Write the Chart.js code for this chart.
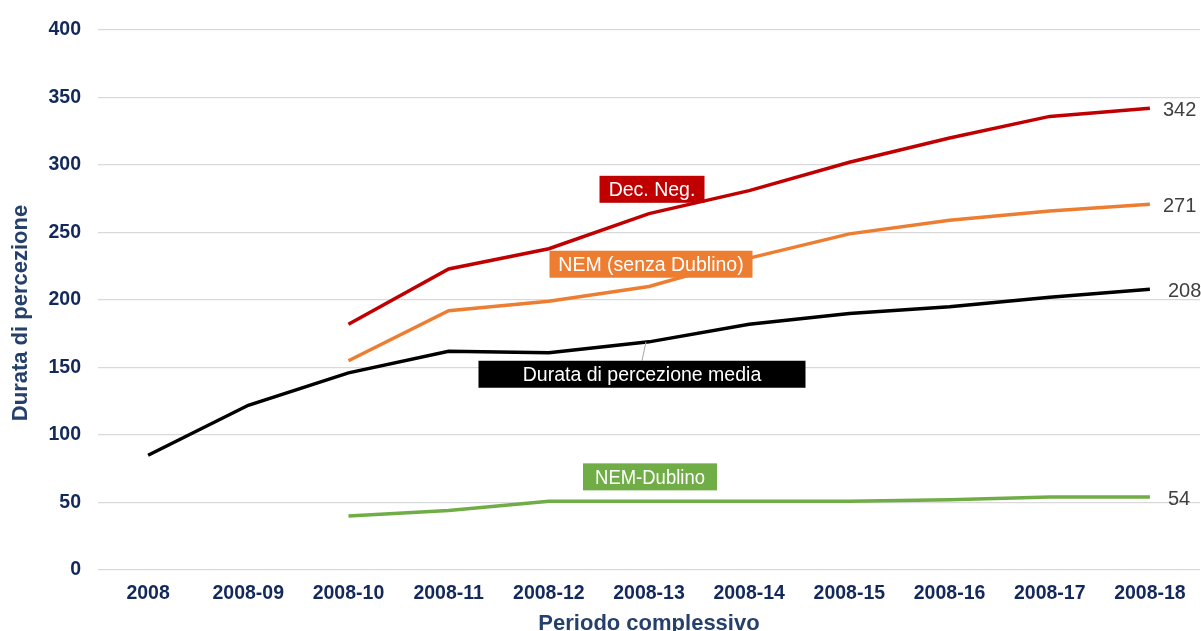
<!DOCTYPE html>
<html>
<head>
<meta charset="utf-8">
<script src="https://cdn.jsdelivr.net/npm/chart.js@4/dist/chart.umd.min.js"></script>
<style>
  html, body { margin: 0; padding: 0; background: #fff; }
  #wrap { width: 1201px; height: 631px; }
</style>
</head>
<body>
<div id="wrap"><canvas id="chart" width="1201" height="631"></canvas></div>
<script>
const periods = ['2008', '2008-09', '2008-10', '2008-11', '2008-12', '2008-13', '2008-14', '2008-15', '2008-16', '2008-17', '2008-18'];
const yTicks = [0, 50, 100, 150, 200, 250, 300, 350, 400];

const decNeg      = [null, null, 182, 223, 238, 264, 281, 302, 320, 336, 342];
const nemSenza    = [null, null, 155, 192, 199, 210, 231, 249, 259, 266, 271];
const durataMedia = [85, 122, 146, 162, 161, 169, 182, 190, 195, 202, 208];
const nemDublino  = [null, null, 40, 44, 51, 51, 51, 51, 52, 54, 54];

const navy = '#13295b';
const titleColor = '#26406c';
const font = '"Liberation Sans", Arial, sans-serif';

// name boxes: text, fill, centre x (category index), centre y (value)
const nameBoxes = [
  { text: 'Dec. Neg.', fill: '#c00000', x: 5.03, y: 282, w: 105 },
  { text: 'NEM (senza Dublino)', fill: '#ed7d31', x: 5.02, y: 226.5, w: 203 },
  { text: 'Durata di percezione media', fill: '#000000', x: 4.93, y: 145, w: 327, leader: { x: 4.97, y: 169 } },
  { text: 'NEM-Dublino', fill: '#70ad47', x: 5.01, y: 69, w: 134, narrow: true }
];

const labelPlugin = {
  id: 'labels',
  afterDatasetsDraw(chart) {
    const ctx = chart.ctx;
    const xs = chart.scales.x, ys = chart.scales.y;
    ctx.save();

    // y axis title (sits a bit below the plot's middle, as in the original)
    ctx.save();
    ctx.translate(21, (chart.chartArea.top + chart.chartArea.bottom) / 2 + 13);
    ctx.rotate(-Math.PI / 2);
    ctx.font = 'bold 22px ' + font;
    ctx.fillStyle = titleColor;
    ctx.textAlign = 'center';
    ctx.textBaseline = 'middle';
    ctx.fillText('Durata di percezione', 0, 0);
    ctx.restore();

    // end values
    ctx.font = '20px ' + font;
    ctx.fillStyle = '#404040';
    ctx.textAlign = 'left';
    ctx.textBaseline = 'middle';
    chart.data.datasets.forEach(ds => {
      const last = ds.data.length - 1;
      const v = ds.data[last];
      ctx.fillText(String(v), xs.getPixelForValue(last) + ds.endOffset, ys.getPixelForValue(v) + 2);
    });

    // name boxes
    nameBoxes.forEach(b => {
      const cx = xs.getPixelForValue(b.x);
      const cy = ys.getPixelForValue(b.y);
      const h = 27;
      if (b.leader) {
        ctx.strokeStyle = '#a6a6a6';
        ctx.lineWidth = 1;
        ctx.beginPath();
        ctx.moveTo(xs.getPixelForValue(b.leader.x), ys.getPixelForValue(b.leader.y));
        ctx.lineTo(cx, cy - h / 2);
        ctx.stroke();
      }
      ctx.fillStyle = b.fill;
      ctx.fillRect(cx - b.w / 2, cy - h / 2, b.w, h);
      ctx.fillStyle = '#ffffff';
      ctx.textAlign = 'center';
      if (b.narrow) {
        // condensed look
        ctx.save();
        ctx.translate(cx, cy + 1);
        ctx.scale(0.88, 1);
        ctx.font = '21px ' + font;
        ctx.fillText(b.text, 0, 0);
        ctx.restore();
      } else {
        ctx.font = '19.5px ' + font;
        ctx.fillText(b.text, cx, cy + 1);
      }
    });
    ctx.restore();
  }
};

function line(label, data, color, endOffset) {
  return {
    label,
    data,
    borderColor: color,
    backgroundColor: color,
    borderWidth: 3.5,
    pointRadius: 0,
    pointHoverRadius: 0,
    tension: 0,
    spanGaps: false,
    endOffset
  };
}

new Chart(document.getElementById('chart'), {
  type: 'line',
  data: {
    labels: periods,
    datasets: [
      line('Dec. Neg.', decNeg, '#c00000', 13),
      line('NEM (senza Dublino)', nemSenza, '#ed7d31', 13),
      line('Durata di percezione media', durataMedia, '#000000', 18),
      line('NEM-Dublino', nemDublino, '#70ad47', 18)
    ]
  },
  options: {
    responsive: false,
    animation: false,
    layout: { padding: { top: 30, right: 1, left: 0, bottom: 0 } },
    plugins: {
      legend: { display: false },
      tooltip: { enabled: false }
    },
    scales: {
      x: {
        offset: true,
        grid: { display: false, drawTicks: false },
        border: { display: false },
        ticks: {
          color: navy,
          padding: 12,
          maxRotation: 0,
          autoSkip: false,
          font: { family: font, size: 19.5, weight: 'bold' }
        },
        title: {
          display: true,
          text: 'Periodo complessivo',
          color: titleColor,
          padding: { top: 4, bottom: -6 },
          font: { family: font, size: 22, weight: 'bold' }
        },
        afterFit(scale) { scale.height = 61; }
      },
      y: {
        min: 0,
        max: 400,
        afterBuildTicks(scale) { scale.ticks = yTicks.map(v => ({ value: v })); },
        grid: { color: '#d9d9d9', lineWidth: 1.3, drawTicks: false },
        border: { display: false },
        ticks: {
          color: navy,
          padding: 17,
          font: { family: font, size: 19.5, weight: 'bold' }
        },
        title: { display: false },
        afterFit(scale) { scale.width = 98; }
      }
    }
  },
  plugins: [labelPlugin]
});
</script>
</body>
</html>
